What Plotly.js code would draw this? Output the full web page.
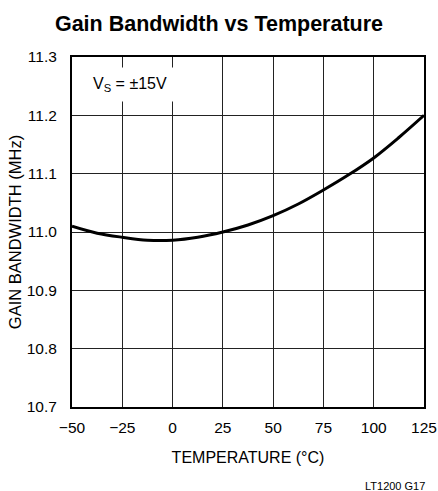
<!DOCTYPE html>
<html><head><meta charset="utf-8">
<script src="https://cdn.plot.ly/plotly-3.0.1.min.js"></script>
<style>html,body{margin:0;padding:0;background:#fff}#plot{width:438px;height:491px}</style>
</head><body><div id="plot"></div>
<script>
const temperature = [-50, -37.5, -25, -12.5, 0, 12.5, 25, 37.5, 50, 62.5, 75, 87.5, 100, 112.5, 125];
const gainBandwidth = [11.010, 10.998, 10.991, 10.986, 10.986, 10.991, 11.000, 11.012, 11.028, 11.048, 11.072, 11.098, 11.127, 11.162, 11.200];
const xTicks = [-50, -25, 0, 25, 50, 75, 100, 125];
const yTicks = [10.7, 10.8, 10.9, 11.0, 11.1, 11.2, 11.3];

const F = "'Liberation Sans Narrow', 'Liberation Sans', Arial, sans-serif";
const data = [{
  x: temperature, y: gainBandwidth, type: 'scatter', mode: 'lines',
  line: {color: '#000', width: 3, shape: 'spline', smoothing: 1},
  hoverinfo: 'skip'
}];
const layout = {
  width: 438, height: 491,
  margin: {l: 72, r: 14, t: 57, b: 84},
  paper_bgcolor: '#fff', plot_bgcolor: '#fff',
  showlegend: false,
  font: {family: F, color: '#000', size: 15},
  title: {text: '<b>Gain Bandwidth vs Temperature</b>', x: 0.5, xanchor: 'center', y: 0.952, yanchor: 'middle',
          font: {family: F, size: 21.5, color: '#000'}},
  xaxis: {
    range: [-50, 125], tickvals: xTicks, ticks: '', showgrid: true, gridcolor: '#222', gridwidth: 1,
    showline: true, mirror: true, linecolor: '#000', linewidth: 2, zeroline: false,
    tickfont: {family: F, size: 15.5}, ticklabelstandoff: 5,
    title: {text: 'TEMPERATURE (°C)', font: {family: F, size: 16}, standoff: 17}
  },
  yaxis: {
    range: [10.7, 11.3], tickvals: yTicks, tickformat: '.1f', ticks: '', showgrid: true, gridcolor: '#222', gridwidth: 1,
    showline: true, mirror: true, linecolor: '#000', linewidth: 2, zeroline: false,
    tickfont: {family: F, size: 15.5}, ticklabelstandoff: 10,
    title: {text: 'GAIN BANDWIDTH (MHz)', font: {family: F, size: 16.5}, standoff: 1}
  },
  annotations: [
    {xref: 'paper', yref: 'paper', x: 0.037, y: 0.92, xanchor: 'left', yanchor: 'middle',
     text: 'V<sub>S</sub> = ±15V', showarrow: false, bgcolor: '#fff', borderpad: 7,
     font: {family: F, size: 16, color: '#000'}},
    {xref: 'paper', yref: 'paper', x: 1.009, y: -0.226, xanchor: 'right', yanchor: 'middle',
     text: 'LT1200 G17', showarrow: false, font: {family: F, size: 11, color: '#000'}}
  ]
};
Plotly.newPlot('plot', data, layout, {displayModeBar: false, staticPlot: true});
</script></body></html>
